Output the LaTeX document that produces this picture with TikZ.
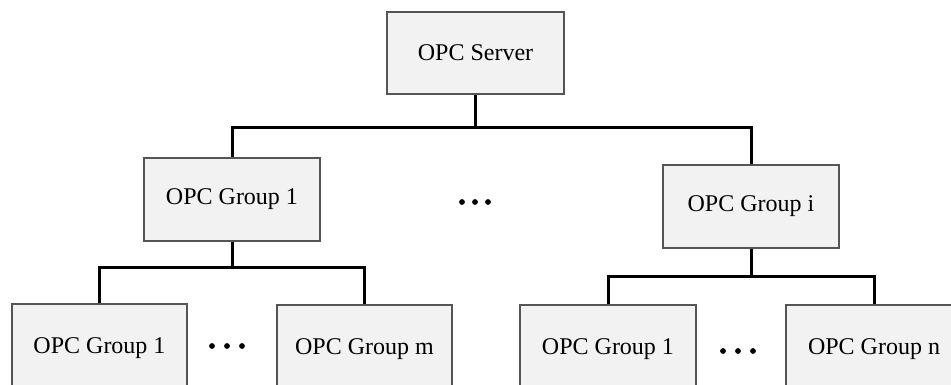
\documentclass[tikz,border=0pt]{standalone}
\usepackage{fontspec}
\setmainfont{Liberation Serif}
\definecolor{boxfill}{HTML}{F2F2F2}
\definecolor{boxline}{HTML}{555555}
\begin{document}
\begin{tikzpicture}[x=1pt,y=-1pt,
  box/.style={draw=boxline,line width=1.5pt,fill=boxfill,minimum width=176pt,minimum height=83pt,inner sep=0pt,font=\fontsize{24}{28}\selectfont},
  conn/.style={draw=black,line width=3pt},
  dotc/.style={fill=black,draw=none}]
\useasboundingbox (0,0) rectangle (951,385);
\clip (0,0) rectangle (951,385);
\fill[white] (0,0) rectangle (951,385);
\node[box,minimum width=177pt,minimum height=82pt] (S) at (475.5,53) {OPC Server};
\node[box] (G1) at (232,199.5) {OPC Group 1};
\node[box] (Gi) at (751,206.5) {OPC Group i};
\node[box,minimum width=175pt,minimum height=88pt] (L1) at (99.5,348) {OPC Group 1};
\node[box,minimum width=175pt,minimum height=88pt] (Lm) at (364.5,349) {OPC Group m};
\node[box,minimum height=88pt] (R1) at (608,349) {OPC Group 1};
\node[box,minimum height=88pt] (Rn) at (874,349) {OPC Group n};
\coordinate (b0) at (475.5,128);
\coordinate (b1) at (232,267);
\coordinate (b2) at (751,276);
\draw[conn] (S.south) -- (b0);
\draw[conn] (G1.north) |- (b0) -| (Gi.north);
\draw[conn] (G1.south) -- (b1);
\draw[conn] (L1.north) |- (b1) -| (Lm.north);
\draw[conn] (Gi.south) -- (b2);
\draw[conn] (R1.north) |- (b2) -| (Rn.north);
\foreach \x in {462,475,488} \fill[dotc] (\x,202) circle (2.9pt);
\foreach \x in {212,227,242} \fill[dotc] (\x,346) circle (2.9pt);
\foreach \x in {723,738,753} \fill[dotc] (\x,351) circle (2.9pt);
\end{tikzpicture}
\end{document}
